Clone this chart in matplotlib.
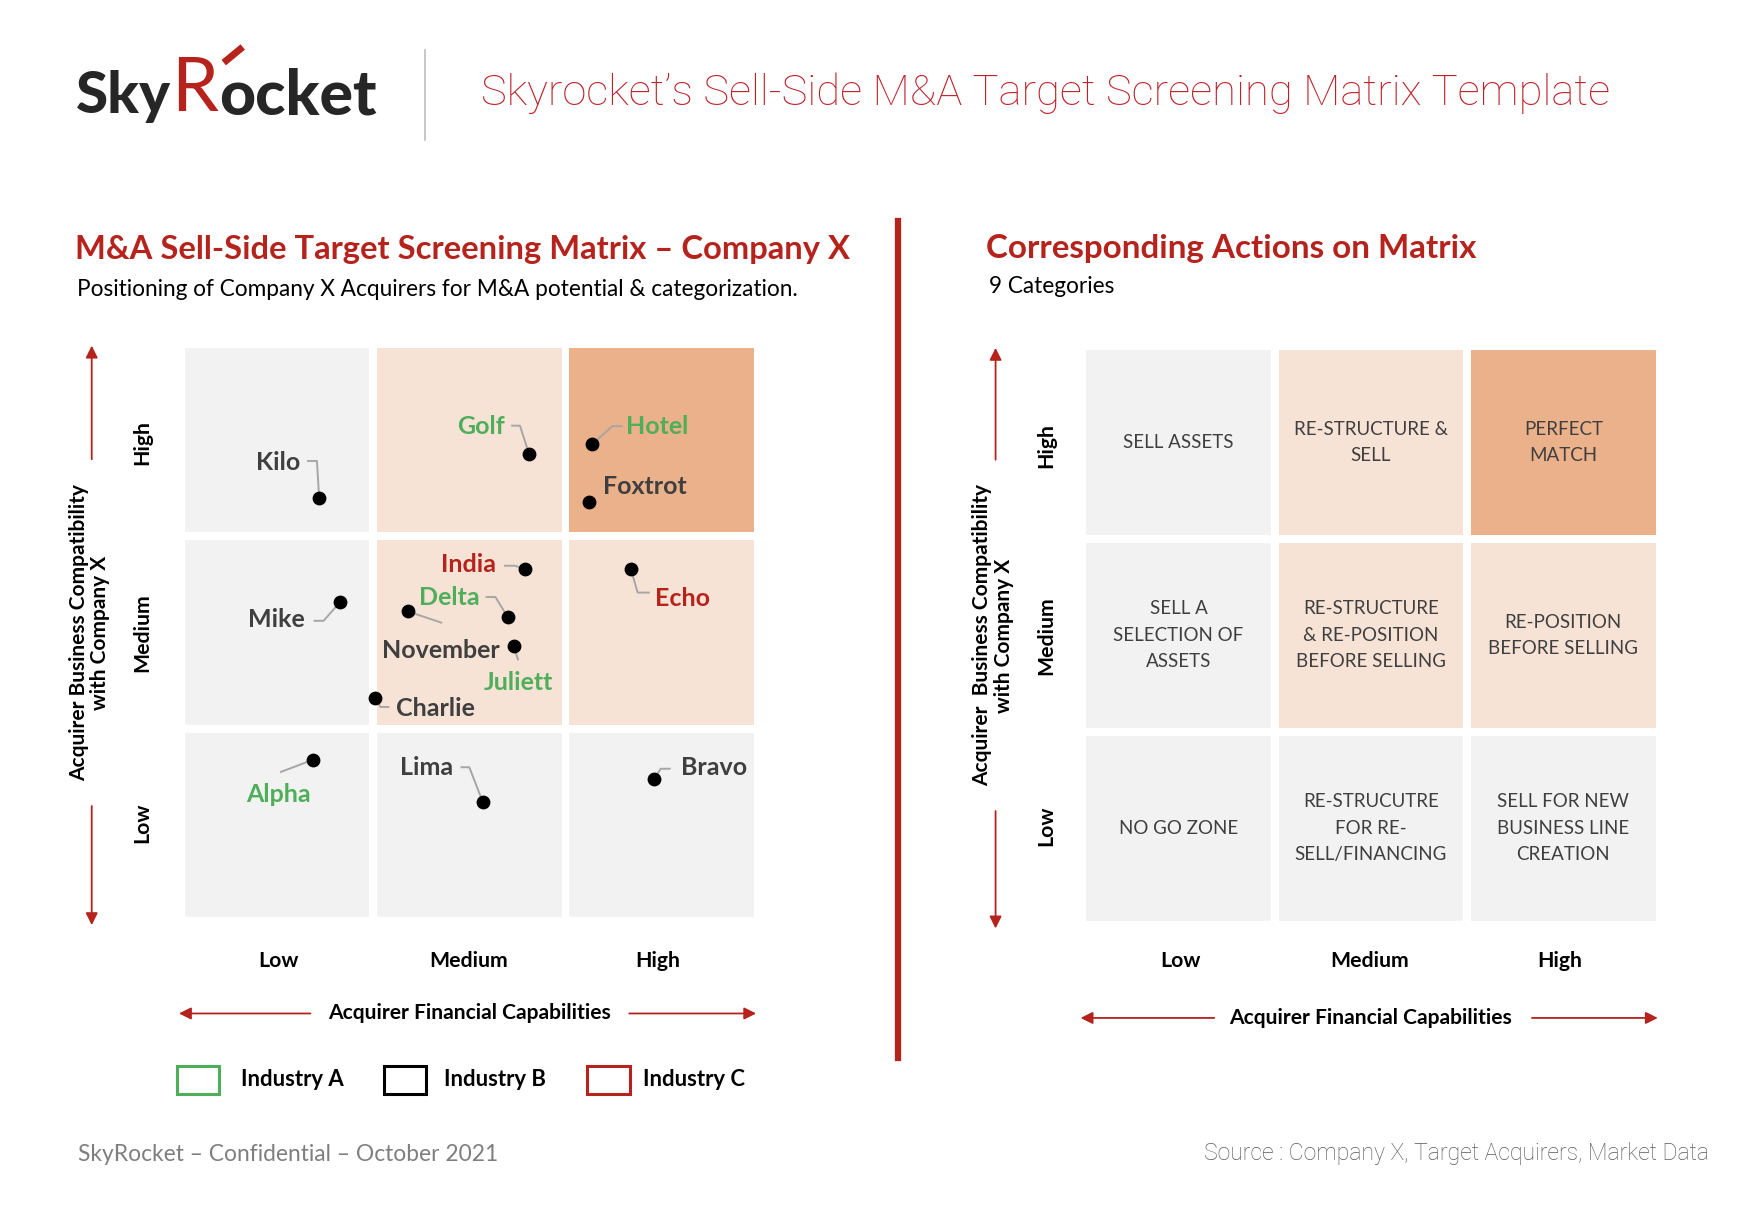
import matplotlib.pyplot as plt
from matplotlib.patches import Rectangle

W, H = 1754, 1214
S = W / 1568  # layout was measured on the 1568 px preview

RED = "#B5231C"
GREEN = "#4FAE5A"
DARK = "#3F3F3F"
GREY = "#F2F2F2"
PEACH = "#F7E3D6"
ORANGE = "#EAB18A"
FONT = "Lato"

levels = ["Low", "Medium", "High"]

# cell colour per (compatibility row, financial column)
cell_colors = [[GREY, GREY, GREY],
               [GREY, PEACH, PEACH],
               [GREY, PEACH, ORANGE]]

actions = [["NO GO ZONE", "RE-STRUCUTRE\nFOR RE-\nSELL/FINANCING", "SELL FOR NEW\nBUSINESS LINE\nCREATION"],
           ["SELL A\nSELECTION OF\nASSETS", "RE-STRUCTURE\n& RE-POSITION\nBEFORE SELLING", "RE-POSITION\nBEFORE SELLING"],
           ["SELL ASSETS", "RE-STRUCTURE &\nSELL", "PERFECT\nMATCH"]]

# acquirers: financial capability (x) and business compatibility (y), 0-3 scale
names = ["Kilo", "Golf", "Hotel", "Foxtrot", "India", "Delta", "November",
         "Juliett", "Charlie", "Echo", "Mike", "Alpha", "Lima", "Bravo"]
fin_x = [0.72, 1.81, 2.14, 2.12, 1.79, 1.70, 1.18, 1.73, 1.01, 2.34, 0.83, 0.69, 1.57, 2.46]
compat_y = [2.20, 2.43, 2.48, 2.18, 1.83, 1.58, 1.61, 1.43, 1.16, 1.83, 1.66, 0.84, 0.62, 0.74]
industry = ["B", "A", "A", "B", "C", "A", "B", "A", "B", "C", "B", "A", "B", "B"]
ind_colors = {"A": GREEN, "B": DARK, "C": RED}
legend_labels = ["Industry A", "Industry B", "Industry C"]

# label offsets and leader elbows, preview pixels relative to the dot (y down)
label_off = [(-37, -32), (-43, -24), (58, -16), (50, -14), (-51, -4), (-52, -18), (30, 35),
             (4, 33), (54, 9), (46, 26), (-57, 16), (-31, 31), (-50, -31), (54, -10)]
leaders = [[(-10, -33), (-2, -33)], [(-15, -25), (-8, -25)], [(26, -16), (18, -16)], [],
           [(-18, -3), (-9, -3)], [(-19, -18), (-11, -18)], [(30, 10)], [(4, 12)],
           [(12, 8), (5, 8)], [(16, 21), (6, 21)], [(-23, 17), (-15, 17)], [(-29, 11)],
           [(-19, -31), (-12, -31)], [(14, -9), (6, -9)]]

fig = plt.figure(figsize=(W / 100, H / 100), dpi=100)
ax = fig.add_axes([0, 0, 1, 1])
ax.set_xlim(0, W)
ax.set_ylim(H, 0)
ax.axis("off")


def T(x, y, s, **kw):
    kw.setdefault("family", FONT)
    kw.setdefault("va", "center")
    ax.text(x * S, y * S, s, **kw)


def arrow(x0, y0, x1, y1):
    ax.annotate("", xy=(x1 * S, y1 * S), xytext=(x0 * S, y0 * S),
                arrowprops=dict(arrowstyle="-|>", color=RED, lw=1.3, mutation_scale=18,
                                shrinkA=0, shrinkB=0))


def matrix_axes(x0, y0, x1, y1, gap):
    m = fig.add_axes([x0 * S / W, 1 - y1 * S / H, (x1 - x0) * S / W, (y1 - y0) * S / H])
    m.set_xlim(gap / 2, 3 - gap / 2)
    m.set_ylim(gap / 2, 3 - gap / 2)
    m.axis("off")
    for r in range(3):
        for c in range(3):
            m.add_patch(Rectangle((c + gap / 2, r + gap / 2), 1 - gap, 1 - gap,
                                  color=cell_colors[r][c], lw=0))
    return m


def axis_decor(left, top, bottom, right, xlab_y, arrow_y, x_gap, ylab_x, ytitle_x, ytitle,
               arr_x, arr_gap):
    # level labels
    cw = (right - left) / 3
    ch = (bottom - top) / 3
    for i, lv in enumerate(levels):
        T(left + cw * (i + 0.5) - 1, xlab_y, lv, ha="center", fontsize=15.3, fontweight="bold", color="black")
        T(ylab_x, bottom - ch * (i + 0.5), lv, ha="center", rotation=90, fontsize=15.3,
          fontweight="bold", color="black")
    cx = (left + right) / 2
    T(cx, arrow_y, "Acquirer Financial Capabilities", ha="center", fontsize=15.1,
      fontweight="bold", color="black")
    arrow(cx - x_gap[0], arrow_y, left - 5, arrow_y)
    arrow(cx + x_gap[1], arrow_y, right + 2, arrow_y)
    cy = (top + bottom) / 2
    T(ytitle_x, cy, ytitle, ha="center", rotation=90, fontsize=15, fontweight="bold",
      color="black", linespacing=1.1, ma="center")
    arrow(arr_x, cy - arr_gap[0], arr_x, top - 2)
    arrow(arr_x, cy + arr_gap[1], arr_x, bottom + 7)


# ---- header ----
T(68, 86, "Sky", ha="left", fontsize=42, fontweight="black", color="#262626")
T(153, 80, "R", ha="left", fontsize=54, fontweight="normal", color=RED)
ax.plot([200 * S, 217 * S], [56 * S, 42 * S], color=RED, lw=5, solid_capstyle="butt")
T(196, 86, "ocket", ha="left", fontsize=45, fontweight="black", color="#262626")
ax.plot([380 * S, 380 * S], [45 * S, 125 * S], color="#BFBFBF", lw=1.2)
T(430, 83, "Skyrocket\u2019s Sell-Side M&A Target Screening Matrix Template", ha="left",
  fontsize=31.3, family="Roboto", fontweight="light", color="#BE2229")

# ---- left panel ----
T(67, 223, "M&A Sell-Side Target Screening Matrix \u2013 Company X", ha="left", fontsize=23.6,
  fontweight="bold", color=RED)
T(69, 259, "Positioning of Company X Acquirers for M&A potential & categorization.", ha="left",
  fontsize=16.3, color="black")

g = 7 / 170
mL = matrix_axes(165, 311, 674, 820, g)
u = 509 / (3 - g)  # preview px per unit
for i, n in enumerate(names):
    x, y = fin_x[i], compat_y[i]
    pts = [(x + dx / u, y - dy / u) for dx, dy in leaders[i]] + [(x, y)]
    if leaders[i]:
        mL.plot([p[0] for p in pts], [p[1] for p in pts], color="#A6A6A6", lw=1.4, zorder=2)
    mL.scatter([x], [y], s=80, color="black", zorder=3)
    lx, ly = label_off[i]
    mL.text(x + lx / u, y - ly / u, n, ha="center", va="center", family=FONT, fontsize=18,
            fontweight="bold", color=ind_colors[industry[i]])

axis_decor(165, 311, 820, 674, 859, 906, (142, 143), 127, 80,
           "Acquirer Business Compatibility\nwith Company X", 82, (155, 155))

# legend
for x0, tx, lab, key in zip([158, 343, 525], [215, 397, 575], legend_labels, ["A", "B", "C"]):
    col = "black" if key == "B" else ind_colors[key]
    ax.add_patch(Rectangle((x0 * S, 953 * S), 38 * S, 25 * S, fill=False, ec=col, lw=2.2))
    T(tx, 965, lab, ha="left", fontsize=15.9, fontweight="bold", color="black")

# divider
ax.plot([803 * S, 803 * S], [198 * S, 946 * S], color=RED, lw=4.5)

# ---- right panel ----
T(881, 222, "Corresponding Actions on Matrix", ha="left", fontsize=23.9, fontweight="bold", color=RED)
T(884, 256, "9 Categories", ha="left", fontsize=16.3, color="black")

mR = matrix_axes(971, 313, 1480, 823, g)
for r in range(3):
    for c in range(3):
        mR.text(c + 0.5, r + 0.5, actions[r][c], ha="center", va="center", family=FONT,
                fontsize=13.5, color=DARK, linespacing=1.67, ma="center")

axis_decor(971, 313, 823, 1480, 859, 910, (140, 144), 935, 888,
           "Acquirer  Business Compatibility\nwith Company X", 890, (157, 157))

# ---- footer ----
T(70, 1032, "SkyRocket \u2013 Confidential \u2013 October 2021", ha="left", fontsize=16.4, color="#7F7F7F")
T(1528, 1031, "Source : Company X, Target Acquirers, Market Data", ha="right", fontsize=16.6,
  family="Roboto", fontweight="light", color="#595959")

fig.savefig("out.png", dpi=100)
